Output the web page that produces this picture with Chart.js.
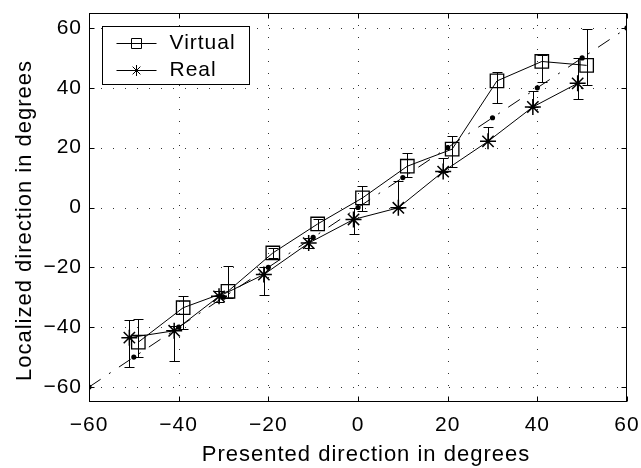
<!DOCTYPE html>
<html>
<head>
<meta charset="utf-8">
<title>Localized vs presented direction</title>
<script src="https://cdn.jsdelivr.net/npm/chart.js@4/dist/chart.umd.min.js"></script>
<style>
  html, body { margin: 0; padding: 0; background: #fff; }
  canvas { display: block; }
</style>
</head>
<body>
<canvas id="dirChart" width="641" height="468"></canvas>
<script>
// tick values on both axes
const xTickValues = [-60, -40, -20, 0, 20, 40, 60];
const yTickValues = [-60, -40, -20, 0, 20, 40, 60];

// "Virtual" series (squares) with error bar ends
const virtualX = [-49, -39, -29, -19, -9, 1, 11, 21, 31, 41, 51];
const virtualY = [-45, -33.5, -28, -15.2, -5.5, 3.2, 13.8, 19.5, 42.3, 48.8, 47.5];
const virtualLow = [-50.1, -40.7, -30.3, -17, -7.5, -1.3, 10.1, 13.4, 34.8, 42.1, 41.1];
const virtualHigh = [-37.3, -29.6, -19.7, -13.5, -3.8, 7.2, 18.1, 24, 45.3, 50.9, 59.6];

// "Real" series (asterisks) with error bar ends
const realX = [-51, -41, -31, -21, -11, -1, 9, 19, 29, 39, 49];
const realY = [-43.5, -41.2, -29.7, -22.4, -11.9, -4, -0.1, 12, 22.1, 33.6, 41.5];
const realLow = [-53.4, -51.3, -31.5, -29.1, -13.5, -8.9, -0.1, 12, 22.1, 33.6, 36.1];
const realHigh = [-37.5, -39.5, -28, -19.9, -10.3, 0, 9, 16.7, 26.8, 38.8, 49.8];

// ideal response line (dash-dot with dots)
const idealX = [-60, -50, -40, -30, -20, -10, 0, 10, 20, 30, 40, 50, 60];
const idealY = [-60, -50, -40, -30, -20, -10, 0, 10, 20, 30, 40, 50, 60];

const FONT = '"Liberation Sans", Arial, Helvetica, sans-serif';
const SPACING = '1px';

function toPoints(xs, ys) {
    return xs.map((x, i) => ({ x: x, y: ys[i] }));
}

function minusSign(value) {
    return String(value).replace('-', '\u2212');
}

// the original figure has its axis labels a bit off-centre
function shiftTitle(scale, dx, dy) {
    if (scale._titleShifted) return;
    const orig = scale.drawTitle;
    scale.drawTitle = function () {
        this.ctx.save();
        this.ctx.translate(dx, dy);
        orig.call(this);
        this.ctx.restore();
    };
    scale._titleShifted = true;
}

// dotted grid, box and inward ticks (MATLAB look)
const framePlugin = {
    id: 'frame',
    beforeLayout(chart) {
        chart.ctx.letterSpacing = SPACING;
    },
    beforeDraw(chart) {
        chart.ctx.letterSpacing = SPACING;
    },
    beforeDatasetsDraw(chart) {
        const { ctx, chartArea: a, scales: { x, y } } = chart;
        ctx.save();
        ctx.strokeStyle = '#333';
        ctx.lineWidth = 1;
        ctx.setLineDash([1, 11]);
        xTickValues.forEach(v => {
            const px = Math.round(x.getPixelForValue(v)) + 0.5;
            if (px <= a.left + 1 || px >= a.right - 1) return;
            ctx.beginPath();
            ctx.moveTo(px, a.top);
            ctx.lineTo(px, a.bottom);
            ctx.stroke();
        });
        yTickValues.forEach(v => {
            const py = Math.round(y.getPixelForValue(v)) + 0.5;
            if (py <= a.top + 1 || py >= a.bottom - 1) return;
            ctx.beginPath();
            ctx.moveTo(a.left, py);
            ctx.lineTo(a.right, py);
            ctx.stroke();
        });
        ctx.restore();
    },
    afterDatasetsDraw(chart) {
        const { ctx, chartArea: a, scales: { x, y } } = chart;
        ctx.save();
        ctx.strokeStyle = '#000';
        ctx.lineWidth = 1;

        // error bars
        const capHalf = 5;
        function errorBars(xs, lows, highs) {
            xs.forEach((xv, i) => {
                const px = Math.round(x.getPixelForValue(xv)) + 0.5;
                const top = Math.round(y.getPixelForValue(highs[i])) + 0.5;
                const bot = Math.round(y.getPixelForValue(lows[i])) + 0.5;
                ctx.beginPath();
                ctx.moveTo(px, top);
                ctx.lineTo(px, bot);
                ctx.moveTo(px - capHalf, top);
                ctx.lineTo(px + capHalf, top);
                ctx.moveTo(px - capHalf, bot);
                ctx.lineTo(px + capHalf, bot);
                ctx.stroke();
            });
        }
        errorBars(virtualX, virtualLow, virtualHigh);
        errorBars(realX, realLow, realHigh);

        // box
        const l = Math.round(a.left) + 0.5, r = Math.round(a.right) - 0.5;
        const t = Math.round(a.top) + 0.5, b = Math.round(a.bottom) - 0.5;
        ctx.strokeRect(l, t, r - l, b - t);

        // ticks pointing inward
        const tl = 5;
        ctx.beginPath();
        xTickValues.forEach(v => {
            const px = Math.round(x.getPixelForValue(v)) + 0.5;
            ctx.moveTo(px, b); ctx.lineTo(px, b - tl);
            ctx.moveTo(px, t); ctx.lineTo(px, t + tl);
        });
        yTickValues.forEach(v => {
            const py = Math.round(y.getPixelForValue(v)) + 0.5;
            ctx.moveTo(l, py); ctx.lineTo(l + tl, py);
            ctx.moveTo(r, py); ctx.lineTo(r - tl, py);
        });
        ctx.stroke();
        ctx.restore();
    },
    afterDraw(chart) {
        // legend box in the upper-left corner of the axes
        const { ctx, chartArea: a } = chart;
        const bx = Math.round(a.left) + 13.5, by = Math.round(a.top) + 13.5;
        const bw = 147, bh = 58;
        ctx.save();
        ctx.fillStyle = '#fff';
        ctx.fillRect(bx, by, bw, bh);
        ctx.strokeStyle = '#000';
        ctx.lineWidth = 1;
        ctx.strokeRect(bx, by, bw, bh);

        const rows = [
            { label: 'Virtual', y: by + 17, marker: 'square' },
            { label: 'Real', y: by + 44, marker: 'star' }
        ];
        const x0 = bx + 14, x1 = bx + 54, mx = bx + 34;
        rows.forEach(row => {
            ctx.beginPath();
            ctx.moveTo(x0, row.y);
            ctx.lineTo(x1, row.y);
            if (row.marker === 'square') {
                ctx.rect(mx - 5, row.y - 5, 10, 10);
            } else {
                const s = 5.5, d = s * Math.SQRT1_2;
                ctx.moveTo(mx, row.y - s); ctx.lineTo(mx, row.y + s);
                ctx.moveTo(mx - d, row.y - d); ctx.lineTo(mx + d, row.y + d);
                ctx.moveTo(mx - d, row.y + d); ctx.lineTo(mx + d, row.y - d);
            }
            ctx.stroke();
            ctx.fillStyle = '#000';
            ctx.font = '21px ' + FONT;
            ctx.textAlign = 'left';
            ctx.textBaseline = 'middle';
            ctx.fillText(row.label, bx + 67, row.y);
        });
        ctx.restore();
    }
};

Chart.defaults.font.family = FONT;
Chart.defaults.color = '#000';

const ctx = document.getElementById('dirChart').getContext('2d');
new Chart(ctx, {
    type: 'line',
    data: {
        datasets: [
            {
                label: 'Ideal',
                data: toPoints(idealX, idealY),
                borderColor: '#000',
                borderWidth: 1,
                borderDash: [14, 10, 2, 10],
                pointStyle: 'circle',
                pointRadius: 2.6,
                pointBackgroundColor: '#000',
                pointBorderColor: '#000',
                pointBorderWidth: 0,
                fill: false,
                order: 3
            },
            {
                label: 'Virtual',
                data: toPoints(virtualX, virtualY),
                borderColor: '#000',
                borderWidth: 1,
                pointStyle: 'rect',
                pointRadius: 9.5,
                pointBackgroundColor: 'rgba(0,0,0,0)',
                pointBorderColor: '#000',
                pointBorderWidth: 1.3,
                fill: false,
                order: 2
            },
            {
                label: 'Real',
                data: toPoints(realX, realY),
                borderColor: '#000',
                borderWidth: 1,
                pointStyle: 'star',
                pointRadius: 8,
                pointBackgroundColor: 'rgba(0,0,0,0)',
                pointBorderColor: '#000',
                pointBorderWidth: 1.5,
                fill: false,
                order: 1
            }
        ]
    },
    options: {
        responsive: false,
        animation: false,
        layout: { padding: { left: 0, right: 14, top: 13, bottom: 0 } },
        plugins: {
            legend: { display: false },
            tooltip: { enabled: false }
        },
        scales: {
            x: {
                type: 'linear',
                min: -60,
                max: 60,
                grid: { display: false, drawTicks: false },
                border: { display: false },
                afterBuildTicks: scale => {
                    scale.ticks = xTickValues.map(v => ({ value: v }));
                },
                afterFit: scale => {
                    scale.height = 66;
                    scale.paddingLeft = 0;
                    scale.paddingRight = 0;
                    shiftTitle(scale, 8, 0);
                },
                ticks: {
                    font: { size: 21 },
                    padding: 11,
                    maxRotation: 0,
                    autoSkip: false,
                    callback: value => minusSign(value)
                },
                title: {
                    display: true,
                    text: 'Presented direction in degrees',
                    font: { size: 22 },
                    padding: { top: 0, bottom: 0 }
                }
            },
            y: {
                type: 'linear',
                min: -65,
                max: 65,
                grid: { display: false, drawTicks: false },
                border: { display: false },
                afterBuildTicks: scale => {
                    scale.ticks = yTickValues.map(v => ({ value: v }));
                },
                afterFit: scale => {
                    scale.width = 89;
                    scale.paddingTop = 0;
                    scale.paddingBottom = 0;
                    shiftTitle(scale, 0, 13);
                },
                ticks: {
                    font: { size: 21 },
                    padding: 7,
                    autoSkip: false,
                    callback: value => minusSign(value)
                },
                title: {
                    display: true,
                    text: 'Localized direction in degrees',
                    font: { size: 22 },
                    padding: { top: 12, bottom: 0 }
                }
            }
        }
    },
    plugins: [framePlugin]
});
</script>
</body>
</html>
